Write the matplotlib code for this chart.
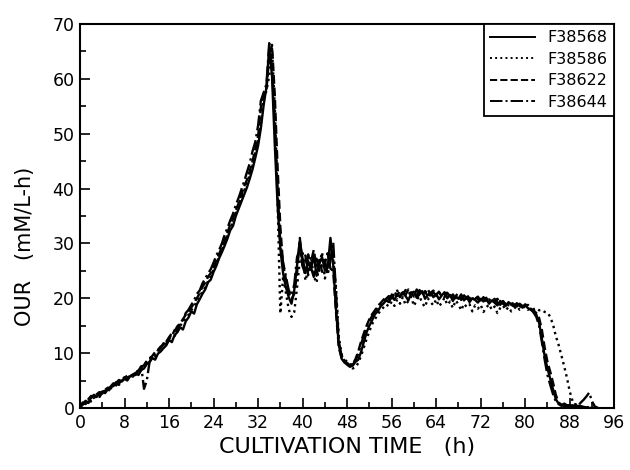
import numpy as np
import matplotlib.pyplot as plt
from matplotlib.ticker import MultipleLocator

# OUR readings every 0.5 h, 0 .. 93 h
hours = np.arange(0, 93.5, 0.5)

our_f38568 = [
    0.2, 0.8, 1.3, 1.0, 1.9, 2.4, 2.0, 2.6, 3.0, 2.7, 3.4, 3.9, 4.5, 4.1, 4.8, 5.0,
    5.3, 5.0, 5.8, 6.1, 6.4, 6.0, 6.9, 7.2, 8.0, 8.4, 9.1, 8.8, 9.9, 10.3, 10.9, 11.4,
    12.4, 12.0, 13.3, 13.8, 14.7, 14.3, 15.8, 16.5, 17.6, 17.2, 18.9, 19.8, 20.8, 21.6, 22.9, 23.4,
    24.8, 25.9, 27.3, 28.4, 29.6, 30.9, 32.4, 33.2, 35.0, 36.3, 37.6, 38.9, 40.2, 41.8, 43.5, 45.6,
    47.8, 51.0, 55.2, 58.5, 65.8, 60.5, 48.0, 37.0, 29.0, 24.5, 22.0, 20.2, 19.0, 21.5, 26.0, 30.5,
    27.2, 24.6, 26.8, 25.2, 27.9, 24.1, 26.3, 27.5, 25.0, 25.5, 31.0, 26.0, 18.0, 11.5, 9.0, 8.3,
    7.9, 7.5, 7.7, 8.4, 8.8, 10.2, 12.0, 13.8, 15.0, 16.0, 17.1, 17.6, 18.5, 19.0, 19.6, 19.3,
    20.3, 19.7, 20.8, 20.2, 21.0, 20.4, 19.6, 20.9, 21.2, 20.1, 20.7, 21.3, 19.9, 20.6, 21.0, 20.2,
    20.8, 19.8, 20.5, 21.1, 20.0, 20.6, 19.5, 20.4, 19.9, 20.7, 19.6, 20.2, 19.3, 20.0, 19.7, 19.2,
    19.9, 19.4, 20.1, 19.0, 19.6, 19.2, 18.7, 19.5, 19.0, 18.6, 19.3, 18.8, 18.5, 19.1, 18.6, 18.3,
    18.7, 18.2, 17.9, 17.6, 17.0, 15.5, 12.6, 9.4, 7.2, 5.3, 3.4, 1.6, 0.8, 0.5, 0.7, 0.3,
    0.3, 0.5, 0.2, 0.4, 0.3, 0.2, 0.1, 0.0, 0.0, 0.0, 0.0,
]

our_f38586 = [
    0.0, 0.5, 0.9, 1.4, 1.2, 1.8, 2.3, 2.1, 2.8, 3.2, 3.0, 3.6, 4.0, 4.4, 4.2, 4.9,
    5.2, 5.6, 5.4, 6.0, 6.5, 6.8, 7.4, 7.9, 8.5, 9.0, 9.6, 9.4, 10.5, 11.0, 11.6, 12.0,
    12.8, 13.4, 13.1, 14.2, 15.0, 15.6, 16.3, 17.0, 17.8, 18.6, 19.4, 20.3, 21.2, 22.0, 23.1, 24.0,
    25.2, 26.4, 27.6, 28.9, 30.1, 31.4, 32.8, 34.1, 35.5, 37.0, 38.4, 39.6, 41.0, 42.6, 44.2, 46.5,
    48.6, 52.0, 56.4, 57.8, 60.5, 65.5, 55.0, 38.0, 17.2, 24.0, 21.0, 18.0, 16.6, 17.5, 22.0, 27.0,
    28.5, 23.2, 25.0, 27.6, 24.0, 22.8, 26.2, 28.4, 23.6, 25.4, 28.0, 27.0, 22.0, 13.0, 9.8, 8.6,
    8.0, 7.6, 7.2, 7.4, 8.2, 9.5, 11.0, 12.6, 14.0, 15.3, 16.2, 17.0, 17.8, 18.3, 18.9, 18.5,
    19.4, 18.6, 19.8, 19.0, 20.2, 18.8, 19.5, 20.3, 18.6, 19.7, 20.4, 19.1, 18.4, 20.0, 19.3, 18.7,
    19.8, 18.5, 19.2, 20.1, 18.8, 19.4, 18.2, 19.6, 18.9, 17.8, 19.0, 18.4, 18.9, 17.6, 18.7, 18.1,
    18.8, 17.5, 18.3, 18.9, 17.9, 18.5, 17.3, 18.2, 18.7, 17.8, 18.4, 17.6, 18.1, 18.6, 17.9, 18.2,
    18.5, 17.9, 18.3, 18.0, 18.2, 17.8, 17.9, 17.5, 17.4, 16.6, 15.2, 13.1, 11.5, 9.6, 7.6, 5.5,
    3.0, 1.3, 0.6, 0.4, 0.2, 0.3, 0.1, 0.2, 0.0, 0.0, 0.0,
]

our_f38622 = [
    0.4, 1.0, 0.7, 1.6, 2.2, 1.8, 2.5, 2.9, 2.6, 3.3, 3.7, 3.5, 4.2, 4.7, 4.4, 5.2,
    5.6, 5.3, 6.0, 5.7, 6.3, 6.9, 7.5, 7.8, 8.6, 8.9, 9.5, 10.2, 10.6, 11.2, 11.5, 12.1,
    12.9, 13.6, 14.0, 14.9, 15.4, 16.2, 17.0, 17.4, 18.3, 19.1, 20.0, 20.9, 22.1, 22.8, 23.9, 24.6,
    25.6, 27.0, 28.1, 29.3, 30.5, 32.0, 33.4, 34.6, 36.1, 37.3, 38.8, 40.4, 41.6, 43.2, 45.0, 47.2,
    49.5, 54.8, 57.0, 58.0, 64.0, 66.2, 57.0, 44.0, 33.0, 26.0, 23.5, 21.0, 19.8, 20.8, 24.5, 31.0,
    26.0, 27.8, 24.2, 26.6, 28.8, 25.8, 27.0, 24.8, 26.4, 28.2, 25.4, 25.0, 17.5, 11.0, 9.2, 8.5,
    8.2, 7.8, 8.0, 8.9, 10.3, 12.1, 13.6, 15.0, 16.2, 17.1, 17.8, 18.6, 19.1, 19.7, 20.2, 19.8,
    20.6, 21.2, 20.4, 21.4, 20.7, 21.5, 20.8, 21.1, 20.3, 21.6, 20.9, 20.5, 21.3, 20.2, 21.0, 21.4,
    20.6, 21.2, 20.3, 20.9, 21.0, 20.1, 20.7, 20.0, 20.5, 19.8, 20.4, 20.8, 19.6, 20.2, 19.9, 20.3,
    19.5, 20.0, 19.7, 19.2, 19.8, 19.4, 19.9, 19.1, 19.5, 18.9, 19.2, 19.0, 18.6, 19.0, 18.8, 18.4,
    18.9, 18.5, 18.1, 17.8, 17.3, 16.4, 14.2, 11.0, 8.4, 6.6, 4.6, 2.4, 1.0, 0.6, 0.3, 0.5,
    0.2, 0.4, 0.1, 0.3, 0.2, 0.1, 0.0, 0.1, 0.0, 0.0, 0.0,
]

our_f38644 = [
    0.1, 0.6, 1.1, 0.9, 1.5, 2.0, 2.3, 2.0, 2.9, 3.1, 3.6, 3.4, 4.3, 4.6, 5.1, 4.8,
    5.5, 5.9, 5.6, 6.2, 6.0, 6.8, 7.6, 3.5, 5.0, 8.4, 9.2, 9.8, 10.4, 10.9, 11.8, 11.6,
    12.6, 13.1, 14.2, 14.0, 15.5, 16.0, 17.3, 17.9, 18.8, 19.6, 20.8, 21.4, 22.7, 23.6, 24.5, 25.3,
    26.5, 27.8, 28.8, 30.0, 31.6, 32.8, 34.2, 35.4, 37.0, 38.3, 39.8, 41.3, 43.0, 44.6, 46.8, 48.5,
    51.5, 56.0, 57.5, 59.0, 66.5, 62.0, 52.0, 40.0, 30.0, 26.5, 24.0, 21.5, 20.5, 22.5, 27.5, 29.0,
    25.8, 24.4, 28.0, 25.6, 23.9, 27.2, 25.0, 26.2, 27.0, 24.3, 26.8, 30.2, 21.0, 12.2, 9.5, 8.9,
    8.4, 8.0, 7.9, 8.6, 9.9, 11.6, 13.2, 14.8, 15.9, 16.8, 17.6, 18.3, 19.0, 19.5, 19.9, 20.4,
    20.0, 20.8, 21.4, 20.5, 21.1, 20.6, 21.6, 20.7, 21.2, 20.4, 21.5, 20.8, 21.0, 21.7, 20.5, 21.1,
    20.4, 21.0, 20.6, 20.2, 20.9, 20.4, 20.0, 20.8, 20.3, 19.7, 20.5, 19.9, 20.1, 19.6, 20.4, 19.8,
    19.6, 20.2, 19.3, 19.8, 19.5, 19.9, 19.2, 18.8, 19.4, 19.1, 18.7, 19.2, 18.9, 18.5, 19.0, 18.6,
    18.4, 18.8, 18.0, 17.4, 16.6, 15.0, 12.0, 8.8, 6.0, 4.2, 2.5, 1.2, 0.7, 0.4, 0.8, 0.5,
    0.5, 0.3, 0.7, 0.4, 1.0, 1.5, 2.1, 2.8, 1.2, 0.3, 0.0,
]

runs = ["F38568", "F38586", "F38622", "F38644"]
styles = ["-", ":", "--", "-."]

fig = plt.figure(figsize=(6.3, 4.7), dpi=100)
ax = fig.add_axes([0.127, 0.132, 0.848, 0.817])

for name, vals, ls in zip(runs, [our_f38568, our_f38586, our_f38622, our_f38644], styles):
    ax.plot(hours, vals, color="black", linestyle=ls, linewidth=1.7, label=name)

ax.set_xlim(0, 96)
ax.set_ylim(0, 70)
ax.xaxis.set_major_locator(MultipleLocator(8))
ax.xaxis.set_minor_locator(MultipleLocator(4))
ax.yaxis.set_major_locator(MultipleLocator(10))
ax.yaxis.set_minor_locator(MultipleLocator(5))
ax.tick_params(which="both", direction="in", width=1.2, labelsize=12.5, pad=4)
ax.tick_params(which="major", length=7)
ax.tick_params(which="minor", length=4)
for sp in ax.spines.values():
    sp.set_linewidth(1.5)

ax.set_xlabel("CULTIVATION TIME   (h)", fontsize=16, labelpad=4)
ax.set_ylabel("OUR   (mM/L-h)", fontsize=15, labelpad=8)
ax.yaxis.set_label_coords(-0.085, 0.42)

leg = ax.legend(loc="upper right", borderaxespad=0, fontsize=11.5, handlelength=2.8,
                labelspacing=0.4, fancybox=False, framealpha=1, edgecolor="black")
leg.get_frame().set_linewidth(1.3)
for line in leg.get_lines():
    line.set_linewidth(1.4)

fig.savefig("out.png", dpi=100)
